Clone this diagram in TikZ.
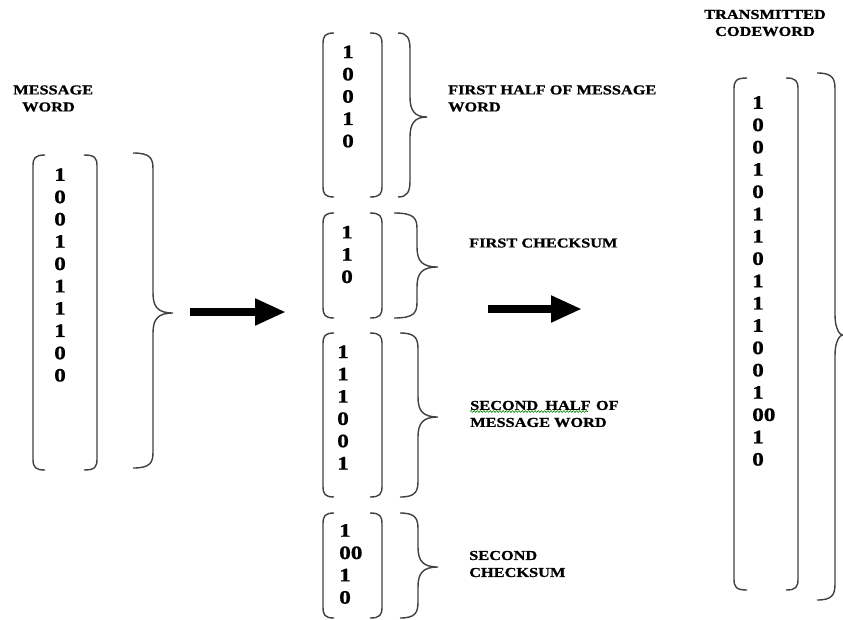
\documentclass[tikz,border=0pt]{standalone}
\usepackage{fontspec}
\setmainfont{Liberation Serif}[BoldFeatures={FakeBold=0.8}]
\usetikzlibrary{arrows.meta,decorations.pathmorphing}
\newcommand\lblfont{\fontsize{13.6}{17}\selectfont\bfseries}
\newcommand\digfont{\fontsize{19}{22.3}\selectfont\bfseries}
% #1 outer-left x, #2 inner-left x, #3 inner-right x, #4 outer-right x, #5 top y, #6 bottom y
\newcommand\mkparens[6]{%
  \draw[bline] (#2,#5) .. controls (#1+2,#5) and (#1,#5+3) .. (#1,#5+11) -- (#1,#6-11)
     .. controls (#1,#6-3) and (#1+2,#6) .. (#2,#6);
  \draw[bline] (#3,#5) .. controls (#4-2,#5) and (#4,#5+3) .. (#4,#5+11) -- (#4,#6-11)
     .. controls (#4,#6-3) and (#4-2,#6) .. (#3,#6);}
% #1 hook x, #2 vertical x, #3 tip x, #4 top y, #5 tip y, #6 bottom y
\newcommand\mkbrace[6]{%
  \draw[bline] (#1,#4) .. controls (#2-3,#4) and (#2,#4+5) .. (#2,#4+16) -- (#2,#5-20)
     .. controls (#2,#5-6) and (#2+5,#5) .. (#3,#5)
     .. controls (#2+5,#5) and (#2,#5+6) .. (#2,#5+20) -- (#2,#6-16)
     .. controls (#2,#6-5) and (#2-3,#6) .. (#1,#6);}
\begin{document}
\begin{tikzpicture}[x=1pt,y=-1pt,
  bline/.style={draw=black!75,line width=1.4pt},
  lbl/.style={font=\lblfont,inner sep=0pt,anchor=west,align=left,xscale=1.2,transform shape},
  digits/.style={font=\digfont,inner sep=0pt,anchor=west,align=left,xscale=1.22,transform shape},
  bigarrow/.style={line width=8pt,-{Triangle[length=31pt,width=25pt]}}]
\useasboundingbox (0,0) rectangle (843,619);

% message word
\node[lbl] (msglbl) at (13,98.5) {MESSAGE\\\hspace*{7.5pt}WORD};
\mkparens{33}{45}{84}{97}{155}{470}
\node[digits] (msgdig) at (54,275) {1\\0\\0\\1\\0\\1\\1\\1\\0\\0};
\mkbrace{133}{153}{173}{153}{313}{468}

\coordinate (a1s) at (190,312);
\coordinate (a1e) at (286,312);
\draw[bigarrow] (a1s) -- (a1e);

% first half
\mkparens{323}{334}{370}{382}{33}{197}
\node[digits] (g1dig) at (342,96.5) {1\\0\\0\\1\\0};
\mkbrace{398}{410}{427}{33}{117}{197}
\node[lbl] (g1lbl) at (448,98.5) {FIRST HALF OF MESSAGE\\WORD};

% first checksum
\mkparens{323}{334}{370}{382}{213}{318}
\node[digits] (g2dig) at (341,254.5) {1\\1\\0};
\mkbrace{394}{417}{438}{213}{267}{318}
\node[lbl] (g2lbl) at (469,243) {FIRST CHECKSUM};

% second half
\mkparens{323}{334}{370}{382}{333}{497}
\node[digits] (g3dig) at (337,407.5) {1\\1\\1\\0\\0\\1};
\mkbrace{400}{418}{438}{333}{417}{497}
\node[lbl] (g3lbl) at (470,414) {SECOND\hspace{2.5pt} HALF\hspace{1pt} OF\\MESSAGE WORD};
\draw[green!55!black,line width=0.6pt,decorate,decoration={snake,amplitude=0.9pt,segment length=3.2pt}]
  (470,411.5) -- (588,411.5);

% second checksum
\mkparens{323}{334}{370}{382}{513}{618}
\node[digits] (g4dig) at (339,564) {1\\00\\1\\0};
\mkbrace{400}{418}{438}{513}{567}{618}
\node[lbl] (g4lbl) at (469,564) {SECOND\\CHECKSUM};

\coordinate (a2s) at (488,309);
\coordinate (a2e) at (582,309);
\draw[bigarrow] (a2s) -- (a2e);

% transmitted codeword
\node[lbl,anchor=center,align=center] (trlbl) at (765,23) {TRANSMITTED\\CODEWORD};
\mkparens{734}{747}{786}{798}{78}{590}
\node[digits] (trdig) at (752,281) {1\\0\\0\\1\\0\\1\\1\\0\\1\\1\\1\\0\\0\\1\\00\\1\\0};
\mkbrace{817}{835}{842.5}{73}{335}{600}
\end{tikzpicture}
\end{document}
